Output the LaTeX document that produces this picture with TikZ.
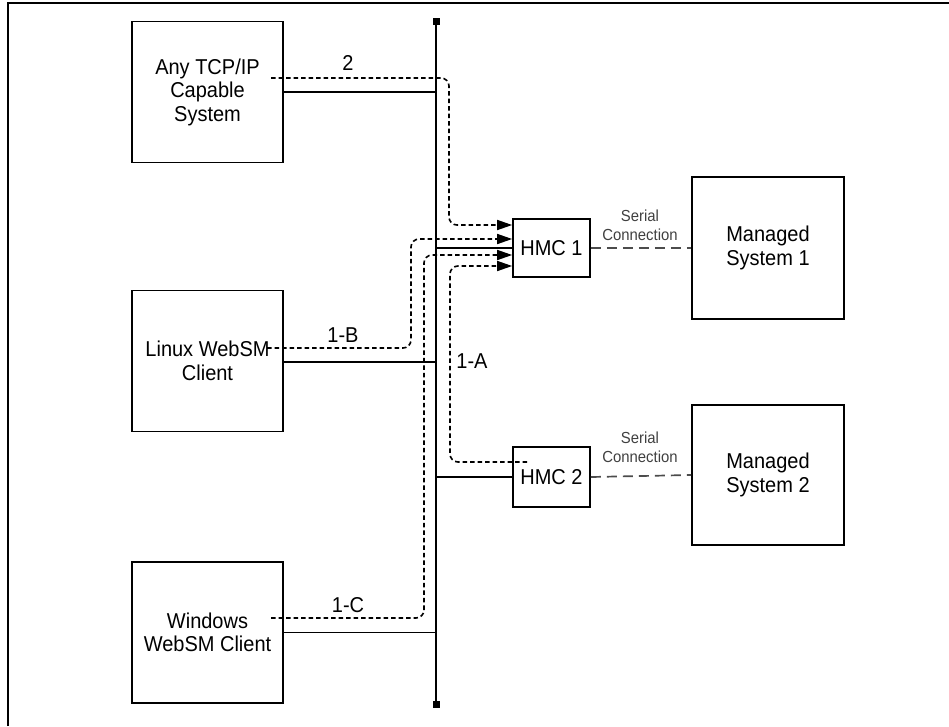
\documentclass[tikz,border=0pt]{standalone}
\usepackage{fontspec}
\setmainfont{Liberation Sans}[FakeStretch=0.93]
\usetikzlibrary{arrows.meta}
\begin{document}
\begin{tikzpicture}[x=1pt,y=-1pt,
  box/.style={draw, line width=1.7pt, inner sep=0pt, align=center,
    font=\fontsize{21.5}{23.5}\selectfont},
  bigbox/.style={box, minimum width=151pt, minimum height=141pt},
  hmcbox/.style={box, fill=white, minimum width=77pt, minimum height=58pt},
  lbl/.style={font=\fontsize{21.5}{23.5}\selectfont, inner sep=0pt},
  slbl/.style={font=\fontsize{16}{18.5}\selectfont, align=center, text=black!75, inner sep=0pt},
  solidline/.style={line width=1.8pt},
  dpath/.style={line width=1.6pt, dash pattern=on 4.5pt off 3pt, rounded corners=8pt,
    -{Triangle[length=15pt,width=10pt]}},
  serial/.style={line width=1.7pt, draw=black!70, dash pattern=on 10pt off 6pt},
  endsq/.style={fill=black, draw=none, minimum size=7pt, inner sep=0pt}
]
\useasboundingbox (0,0) rectangle (949,726);
% outer frame
\draw[line width=1.5pt] (8,726) -- (8,3) -- (949,3);

% boxes
\node[bigbox] (tcp) at (207.5,92) {Any TCP/IP\\Capable\\System};
\node[bigbox] (linux) at (207.5,361) {Linux WebSM\\Client};
\node[bigbox] (win) at (207.5,632.5) {Windows\\WebSM Client};
\node[bigbox, minimum width=152pt, minimum height=142pt] (ms1) at (768,248) {Managed\\System 1};
\node[bigbox, minimum width=152pt, minimum height=140pt] (ms2) at (768,475) {Managed\\System 2};

% bus
\coordinate (bustop) at (436,21);
\coordinate (busbot) at (436,704);
\draw[solidline] (bustop) -- (busbot);
\node[endsq] (sqtop) at (bustop) {};
\node[endsq] (sqbot) at (busbot) {};

% HMCs
\node[hmcbox] (hmc1) at (551.5,248) {HMC 1};
\node[hmcbox, minimum height=60pt] (hmc2) at (551.5,477) {HMC 2};

% solid connections
\draw[solidline] (tcp.east) -- (tcp.east -| bustop);
\draw[solidline] ([yshift=-1pt]linux.east) -- ([yshift=-1pt]linux.east -| bustop);
\draw[solidline] (win.east) -- (win.east -| bustop);
\draw[solidline] (hmc1.west -| bustop) -- (hmc1.west);
\draw[solidline] (hmc2.west -| bustop) -- (hmc2.west);

% serial connections
\draw[serial] (hmc1.east) -- (ms1.west);
\draw[serial] (hmc2.east) -- (ms2.west);
\node[slbl] (ser1) at (640,225.5) {Serial\\Connection};
\node[slbl] (ser2) at (640,447.5) {Serial\\Connection};

% dashed logical paths
\coordinate (s2) at (271,78);
\coordinate (s1b) at (267,348);
\coordinate (s1c) at (271,618);
\coordinate (s1a) at (527,462);
\draw[dpath] (s2) -- (449,78) -- (449,225) -- ([yshift=23pt]hmc1.west);
\draw[dpath] (s1b) -- (411,348) -- (411,239) -- ([yshift=9pt]hmc1.west);
\draw[dpath] (s1c) -- (424,618) -- (424,255) -- ([yshift=-7pt]hmc1.west);
\draw[dpath] (s1a) -- (450,462) -- (450,266) -- ([yshift=-18pt]hmc1.west);

% path labels
\node[lbl] (l2) at (348,63) {2};
\node[lbl] (l1b) at (343,335) {1-B};
\node[lbl] (l1c) at (348,605) {1-C};
\node[lbl] (l1a) at (472,361) {1-A};
\end{tikzpicture}
\end{document}
